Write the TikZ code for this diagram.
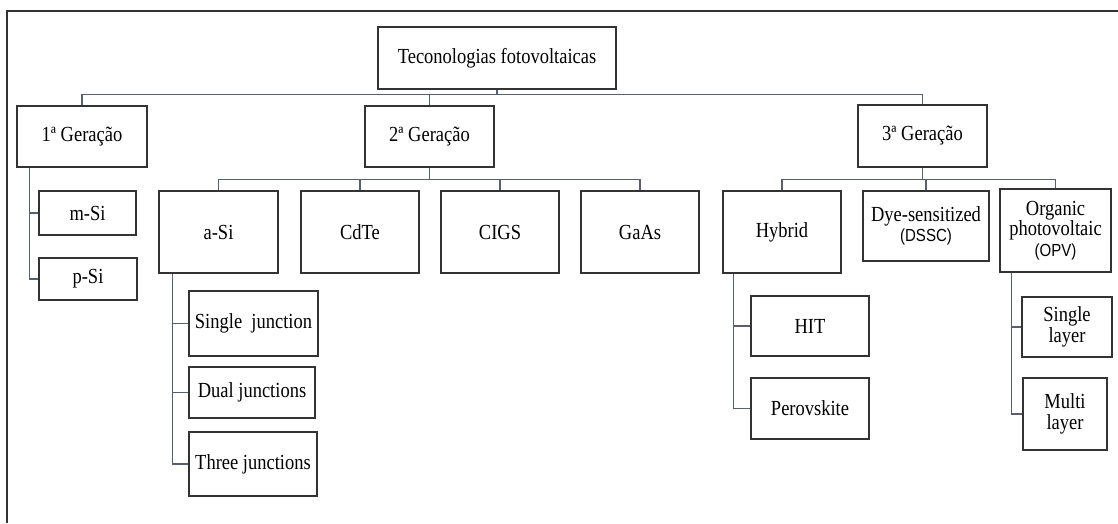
\documentclass[tikz,border=0pt]{standalone}
\usepackage{fontspec}
\setmainfont{Liberation Serif}[FakeStretch=0.86]
\newfontfamily\arialfont{Liberation Sans}[FakeStretch=0.86]
\definecolor{lnk}{HTML}{56606E}
\definecolor{edge}{HTML}{333333}

\begin{document}
\begin{tikzpicture}[x=1pt,y=-1pt,
  box/.style={draw=edge,line width=1.5pt,inner sep=2pt,align=center,
    font=\fontsize{21.5}{20.5}\selectfont},
  link/.style={draw=lnk,line width=1.2pt}]
  \useasboundingbox (0,0) rectangle (1118,523);
  % frame (only top and left edges are in view)
  \draw[edge,line width=1.5pt] (7,523) -- (7,11) -- (1118,11);

  % top and generations
  \node[box,minimum width=238pt,minimum height=62pt] (root) at (497,58) {Teconologias fotovoltaicas};
  \node[box,minimum width=130pt,minimum height=61pt] (gen1) at (82,136.5) {1ª Geração};
  \node[box,minimum width=129pt,minimum height=61pt] (gen2) at (429.5,136.5) {2ª Geração};
  \node[box,minimum width=129pt,minimum height=62pt] (gen3) at (922.5,136) {3ª Geração};

  % 1st generation
  \node[box,minimum width=97pt,minimum height=44pt] (msi) at (87.5,213) {m-Si};
  \node[box,minimum width=98pt,minimum height=42pt] (psi) at (88,279) {p-Si};

  % 2nd generation
  \node[box,minimum width=119pt,minimum height=82pt] (asi) at (218.5,232) {a-Si};
  \node[box,minimum width=118pt,minimum height=82pt] (cdte) at (360,232) {CdTe};
  \node[box,minimum width=118pt,minimum height=82pt] (cigs) at (500,232) {CIGS};
  \node[box,minimum width=118pt,minimum height=82pt] (gaas) at (640,232) {GaAs};
  \node[box,minimum width=129pt,minimum height=65pt] (single) at (253.5,323.5) {Single\ \ junction};
  \node[box,minimum width=126pt,minimum height=51pt] (dual) at (252,392.5) {Dual junctions};
  \node[box,minimum width=128pt,minimum height=64pt] (three) at (253,464) {Three junctions};

  % 3rd generation
  \node[box,minimum width=118pt,minimum height=82pt] (hybrid) at (782,232) {Hybrid};
  \node[box,minimum width=126pt,minimum height=70pt] (dssc) at (926,226)
    {Dye-sensitized\\{\arialfont\fontsize{17.5}{20.5}\selectfont (DSSC)}};
  \node[box,minimum width=111pt,minimum height=83pt] (opv) at (1055.5,230.5)
    {Organic\\photovoltaic\\{\arialfont\fontsize{17.5}{20.5}\selectfont (OPV)}};
  \node[box,minimum width=118pt,minimum height=60pt] (hit) at (810,326) {HIT};
  \node[box,minimum width=118pt,minimum height=61pt] (perov) at (810,408.5) {Perovskite};
  \node[box,minimum width=90pt,minimum height=60pt] (slayer) at (1067,327) {Single\\layer};
  \node[box,minimum width=84pt,minimum height=72pt] (mlayer) at (1065,414) {Multi\\layer};

  % connectors
  \foreach \g in {gen1,gen2,gen3}
    \draw[link] (root.south) -- ++(0,5) -| (\g.north);
  \foreach \c in {asi,cdte,cigs,gaas}
    \draw[link] (gen2.south) -- ++(0,12) -| (\c.north);
  \foreach \c in {hybrid,dssc,opv}
    \draw[link] (gen3.south) -- ++(0,12) -| (\c.north);
  \foreach \c in {msi,psi}
    \draw[link] ([xshift=13pt]gen1.south west) |- (\c.west);
  \foreach \c in {single,dual,three}
    \draw[link] ([xshift=14pt]asi.south west) |- (\c.west);
  \foreach \c in {hit,perov}
    \draw[link] ([xshift=11pt]hybrid.south west) |- (\c.west);
  \foreach \c in {slayer,mlayer}
    \draw[link] ([xshift=12pt]opv.south west) |- (\c.west);
\end{tikzpicture}
\end{document}
